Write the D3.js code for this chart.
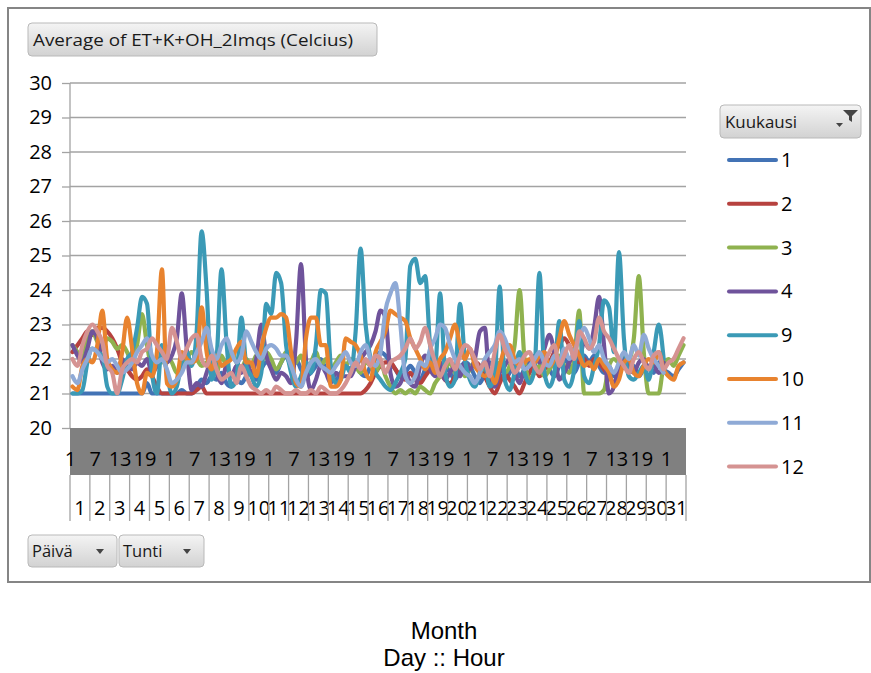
<!DOCTYPE html>
<html>
<head>
<meta charset="utf-8">
<script src="https://cdn.jsdelivr.net/npm/d3@7"></script>
<style>
  html, body { margin: 0; padding: 0; background: #ffffff; }
  svg { display: block; }
</style>
</head>
<body>
<svg id="chart" width="871" height="673"></svg>
<script>
// Hourly indoor temperature, averaged per day and hour, one line per month.
// Each series holds four readings per day (00-06, 06-12, 12-18, 18-24 blocks).
const title = "Average of ET+K+OH_2Imqs (Celcius)";
const legendTitle = "Kuukausi";
const fieldButtons = ["Päivä", "Tunti"];
const captionLines = ["Month", "Day :: Hour"];

const months = ["1", "2", "3", "4", "9", "10", "11", "12"];
const monthColors = ["#4373b5", "#b7423f", "#8fb24f", "#6f539b", "#3b9ab6", "#e8832f", "#8faad6", "#d59392"];

const dayLabels = ["1","2","3","4","5","6","7","8","9","10","11","12","13","14","15","16",
  "17","18","19","20","21","22","23","24","25","26","27","28","29","30","31"];
// hour labels shown on every 30th hourly category
const hourTickLabels = ["1","7","13","19","1","7","13","19","1","7","13","19","1","7","13","19",
  "1","7","13","19","1","7","13","19","1"];
const yTicks = [20, 21, 22, 23, 24, 25, 26, 27, 28, 29, 30];

const m1 = [
  21.0,21.0,21.0,21.0, 21.0,21.0,21.0,21.0, 21.0,21.0,21.0,21.0, 21.0,21.0,21.0,21.3,
  21.0,21.0,21.0,21.0, 21.0,21.0,21.1,21.0, 21.0,21.2,21.4,21.3, 21.5,21.4,21.6,21.3,
  21.2,21.4,21.3,21.5, 21.6,21.4,21.7,21.9, 21.8,21.6,21.9,22.1, 21.8,22.0,21.7,21.5,
  21.6,21.8,22.0,21.7, 21.5,21.4,21.6,21.8, 21.7,21.9,21.6,21.5, 21.8,22.0,22.2,22.1,
  21.9,21.7,21.5,21.6, 21.8,21.6,21.4,21.7, 21.9,21.7,21.5,21.8, 21.6,21.4,21.7,21.9,
  21.8,21.5,21.3,21.6, 21.9,21.7,21.5,21.4, 21.6,21.8,21.5,21.7, 21.9,21.6,21.8,22.0,
  21.7,21.5,21.8,22.0, 21.8,21.6,21.9,22.1, 21.9,22.1,21.8,21.6, 21.8,21.5,21.7,21.9,
  21.6,21.8,21.5,21.7, 21.8,21.6,21.9,21.7, 21.6,21.5,21.7,21.9
];
const m2 = [
  22.2,22.4,22.6,22.8, 22.7,22.9,22.9,22.8, 22.6,22.3,21.9,21.7, 21.5,21.4,21.5,21.7,
  21.5,21.2,21.0,21.0, 21.0,21.0,21.0,21.0, 21.0,21.1,21.2,21.0, 21.0,21.0,21.0,21.0,
  21.0,21.0,21.0,21.0, 21.0,21.0,21.0,21.0, 21.0,21.0,21.0,21.0, 21.0,21.0,21.0,21.0,
  21.0,21.0,21.0,21.0, 21.0,21.0,21.0,21.0, 21.0,21.0,21.0,21.1, 21.3,21.6,21.8,21.9,
  21.9,21.7,21.5,21.4, 21.6,21.4,21.3,21.5, 21.7,21.9,21.6,21.4, 21.3,21.5,21.8,21.6,
  21.7,21.9,21.8,21.5, 21.2,21.0,21.3,21.6, 21.4,21.2,21.0,21.3, 21.6,21.8,21.5,21.7,
  21.9,22.2,22.4,22.6, 22.4,22.1,21.9,22.0, 21.8,22.0,21.9,21.7, 21.5,21.3,21.6,21.8
];
const m3 = [
  22.4,22.2,22.0,22.6, 22.8,22.5,22.3,22.6, 22.5,22.3,22.4,22.2, 21.9,22.4,23.3,22.4,
  21.8,22.0,21.9,22.1, 21.9,21.6,21.8,22.0, 22.2,22.0,21.8,21.9, 22.0,21.6,22.1,21.8,
  22.2,21.9,21.7,22.0, 21.8,22.1,21.9,22.2, 22.0,21.7,21.9,22.2, 21.8,21.9,22.1,21.7,
  21.9,22.2,21.8,22.0, 21.7,21.9,22.1,21.8, 22.0,21.8,21.6,21.9, 21.8,21.6,21.9,21.5,
  21.2,21.0,21.1,21.0, 21.1,21.0,21.2,21.1, 21.0,21.3,21.5,21.7, 21.9,21.6,21.8,21.5,
  21.7,21.9,21.6,21.8, 21.5,21.7,21.9,21.6, 21.8,22.4,24.0,22.0, 21.4,21.6,21.8,21.5,
  21.7,21.9,22.1,21.8, 21.6,22.0,23.4,21.0, 21.0,21.0,21.0,21.1, 21.8,22.0,21.9,22.1,
  22.0,22.6,24.4,22.2, 21.0,21.0,21.0,21.8, 22.0,21.8,22.1,22.4
];
const m4 = [
  22.4,22.1,21.9,22.3, 22.8,22.6,21.9,21.7, 21.8,21.6,22.0,21.8, 21.7,21.9,21.8,22.0,
  21.6,21.8,22.1,21.9, 22.1,22.6,23.9,22.3, 21.1,21.3,21.2,21.6, 22.0,21.6,21.3,21.8,
  21.5,21.8,21.6,21.9, 21.6,22.0,23.0,22.1, 21.7,21.4,21.6,21.5, 21.3,22.5,24.75,22.0,
  21.1,21.4,21.8,21.6, 21.3,21.6,21.5,21.5, 21.5,21.8,22.0,22.2, 22.4,22.8,23.4,23.2,
  21.6,21.2,21.3,21.6, 21.3,21.2,21.8,22.1, 21.7,21.5,21.9,21.4, 21.6,21.8,21.5,21.9,
  21.7,22.0,22.8,22.9, 21.3,21.2,21.6,21.8, 22.0,21.6,21.3,21.7, 21.8,22.1,21.9,22.3,
  22.7,22.2,21.4,21.6, 21.9,22.1,22.0,22.5, 22.3,22.9,23.8,22.4, 21.0,21.2,21.8,22.0,
  21.8,21.6,21.9,22.0, 21.7,21.8,21.6,21.9
];
const m9 = [
  21.0,21.0,21.1,21.9, 22.3,22.2,22.1,21.2, 21.0,21.0,21.4,22.0, 22.2,22.9,23.8,23.6,
  21.6,21.0,22.4,21.6, 21.0,21.2,21.9,22.2, 21.8,22.8,25.7,24.0, 21.4,22.0,24.6,22.5,
  21.2,21.4,23.2,21.8, 21.5,21.2,21.6,23.6, 23.3,24.5,24.2,22.4, 21.6,21.2,21.5,21.9,
  21.6,22.4,24.0,23.9, 21.8,21.3,21.4,21.8, 21.6,22.8,25.2,23.0, 22.0,21.6,21.4,21.2,
  21.1,21.3,21.6,22.0, 24.7,24.9,24.2,24.4, 22.4,21.8,23.9,21.6, 21.2,21.4,23.6,22.0,
  21.4,21.2,21.6,21.8, 21.2,21.5,24.1,21.4, 21.1,21.6,22.2,21.6, 21.3,21.7,24.5,21.6,
  21.2,21.6,23.1,21.4, 21.2,21.7,23.1,21.5, 21.3,21.8,22.4,23.7, 23.5,22.2,25.1,22.6,
  21.5,21.4,21.6,21.8, 21.4,22.2,23.0,22.0
];
const m10 = [
  21.2,21.1,21.8,22.0, 21.9,22.4,23.4,22.0, 21.7,21.6,22.2,23.2, 22.3,21.3,21.0,21.6,
  21.5,22.2,24.6,21.3, 21.2,21.4,22.2,22.0, 21.9,22.0,23.5,22.2, 21.7,22.1,21.8,21.9,
  22.0,22.3,22.5,21.9, 21.9,21.5,22.3,22.9, 23.2,23.2,23.3,23.2, 22.2,21.3,21.2,22.6,
  23.2,23.2,22.4,22.4, 21.2,21.2,21.4,22.6, 22.5,22.4,22.1,21.6, 21.4,22.2,22.5,22.8,
  23.4,23.3,23.2,23.1, 22.6,22.3,22.0,21.7, 21.9,21.6,22.0,22.2, 22.6,23.0,22.4,22.0,
  22.3,21.8,21.6,21.5, 21.6,21.3,21.8,22.3, 22.4,22.0,21.8,21.9, 22.0,21.9,22.1,22.2,
  21.8,22.0,22.6,23.1, 22.7,22.4,22.1,21.8, 21.9,21.7,22.0,21.8, 21.6,21.2,21.4,21.9,
  22.0,21.6,21.5,21.8, 22.0,21.9,22.2,21.7, 21.5,21.4,21.8,21.9
];
const m11 = [
  21.5,21.3,21.7,22.0, 22.3,22.2,22.0,21.9, 22.0,21.8,21.6,21.7, 21.9,22.2,22.4,22.6,
  22.1,21.9,22.0,21.7, 21.3,21.4,21.6,21.9, 21.9,22.2,22.5,22.9, 22.3,22.0,22.4,22.6,
  22.2,21.9,22.1,22.8, 22.5,22.2,22.0,22.3, 22.4,22.3,22.1,22.1, 21.8,21.4,21.2,21.6,
  21.9,22.0,21.8,21.7, 21.6,21.8,22.0,22.2, 21.9,21.8,22.2,22.4, 22.0,21.8,22.2,23.4,
  23.9,24.2,23.0,21.5, 21.3,21.5,21.9,21.8, 22.3,22.6,23.0,22.9, 22.4,22.0,21.8,21.6,
  21.5,21.3,21.6,22.0, 22.2,22.4,22.8,22.6, 22.2,21.9,22.0,21.7, 21.8,22.0,22.2,21.9,
  21.8,22.1,21.9,22.3, 22.0,22.2,22.6,22.9, 22.6,22.2,22.4,22.0, 21.8,21.6,21.9,22.2,
  22.0,22.4,22.1,22.7, 22.3,22.0,21.8,21.6
];
const m12 = [
  22.0,21.8,22.4,22.8, 23.0,22.8,22.5,21.8, 21.6,21.0,21.7,21.9, 22.0,21.9,22.2,22.3,
  22.6,22.4,22.2,22.0, 22.9,22.5,22.0,22.3, 22.6,22.7,22.0,21.8, 22.1,21.7,21.4,21.5,
  21.6,21.3,21.8,21.5, 21.2,21.1,21.0,21.1, 21.0,21.2,21.1,21.0, 21.0,21.1,21.0,21.0,
  21.1,21.0,21.2,21.1, 21.0,21.0,21.1,21.3, 21.6,21.9,21.7,22.0, 21.8,22.1,22.0,21.6,
  21.9,22.0,22.1,22.3, 22.6,22.3,22.5,22.9, 22.4,21.9,21.5,21.8, 22.0,21.7,22.1,22.4,
  22.3,22.0,21.7,21.9, 21.5,22.2,22.7,22.3, 22.0,21.6,21.8,22.1, 22.2,21.8,21.6,21.9,
  22.2,22.4,21.8,22.1, 22.4,22.0,22.8,22.6, 22.3,22.5,23.2,22.8, 22.6,22.3,22.0,21.8,
  21.6,22.0,22.2,21.9, 21.7,22.1,22.2,21.7, 21.9,22.0,22.3,22.6
];
const seriesValues = [m1, m2, m3, m4, m9, m10, m11, m12];

const svg = d3.select("#chart");
const defs = svg.append("defs");
const grad = defs.append("linearGradient").attr("id", "btn").attr("x1", 0).attr("y1", 0).attr("x2", 0).attr("y2", 1);
grad.append("stop").attr("offset", "0%").attr("stop-color", "#f4f4f4");
grad.append("stop").attr("offset", "100%").attr("stop-color", "#d2d2d2");

const numFont = "'Open Sans', 'Noto Sans', sans-serif";
const numSize = 20;

// outer chart frame
svg.append("rect").attr("x", 8).attr("y", 8).attr("width", 862).attr("height", 574)
  .attr("fill", "#ffffff").attr("stroke", "#858585").attr("stroke-width", 2);

const hoursTotal = 31 * 24;
const x = d3.scaleLinear().domain([0, hoursTotal]).range([70, 686]);
const y = d3.scaleLinear().domain([20, 30]).range([428, 83]);

// value axis with gridlines
const yAxis = svg.append("g").attr("transform", "translate(70,0)")
  .call(d3.axisLeft(y).tickValues(yTicks).tickSize(8).tickPadding(10).tickFormat(d3.format("d")));
yAxis.select(".domain").remove();
yAxis.selectAll(".tick line").attr("stroke", "#a3a3a3").attr("stroke-width", 1.3);
yAxis.selectAll(".tick text").attr("font-family", numFont).attr("font-size", numSize).attr("fill", "#000");

svg.append("g").selectAll("line").data(yTicks.filter(v => v > 20)).join("line")
  .attr("x1", 70).attr("x2", 686)
  .attr("y1", d => y(d)).attr("y2", d => y(d))
  .attr("stroke", "#a3a3a3").attr("stroke-width", 1.3);
svg.append("line").attr("x1", 70).attr("x2", 70).attr("y1", y(30)).attr("y2", y(20))
  .attr("stroke", "#a3a3a3").attr("stroke-width", 1.3);

// category axis: hour band and day row
svg.append("rect").attr("x", 70).attr("y", y(20)).attr("width", 616).attr("height", 47).attr("fill", "#808080");

const hourStep = 30;
svg.append("g").selectAll("text").data(hourTickLabels).join("text")
  .attr("x", (d, i) => x(i * hourStep + 0.5))
  .attr("y", 466)
  .attr("text-anchor", "middle")
  .attr("font-family", numFont).attr("font-size", numSize).attr("fill", "#000")
  .text(d => d);

const dayScale = d3.scaleBand().domain(dayLabels).range([70, 686]);
const dayAxis = svg.append("g").attr("transform", "translate(0,475)")
  .call(d3.axisBottom(dayScale).tickSize(0).tickPadding(26));
dayAxis.select(".domain").remove();
dayAxis.selectAll(".tick text").attr("font-family", numFont).attr("font-size", numSize).attr("fill", "#000");

svg.append("g").selectAll("line").data(d3.range(dayLabels.length + 1)).join("line")
  .attr("x1", i => 70 + i * dayScale.bandwidth()).attr("x2", i => 70 + i * dayScale.bandwidth())
  .attr("y1", 475).attr("y2", 521)
  .attr("stroke", "#a3a3a3").attr("stroke-width", 1.3);

// month lines
const line = d3.line()
  .x((d, i) => x(i * 6 + 3))
  .y(d => y(d))
  .curve(d3.curveMonotoneX);

svg.append("g").selectAll("path").data(seriesValues).join("path")
  .attr("d", d => line(d))
  .attr("fill", "none")
  .attr("stroke", (d, i) => monthColors[i])
  .attr("stroke-width", 4.2)
  .attr("stroke-linejoin", "round")
  .attr("stroke-linecap", "round");

// field buttons
function button(x0, y0, w, h) {
  svg.append("rect").attr("x", x0).attr("y", y0).attr("width", w).attr("height", h).attr("rx", 4)
    .attr("fill", "url(#btn)").attr("stroke", "#b9b9b9").attr("stroke-width", 1);
}
const btnFont = "'Open Sans', 'Noto Sans', sans-serif";

button(28, 23, 349, 33);
svg.append("text").attr("x", 33).attr("y", 46)
  .attr("font-family", btnFont).attr("font-size", 16.5).attr("fill", "#1a1a1a")
  .attr("textLength", 320).attr("lengthAdjust", "spacingAndGlyphs")
  .text(title);

button(720, 105, 141, 33);
svg.append("text").attr("x", 725).attr("y", 128)
  .attr("font-family", btnFont).attr("font-size", 16.5).attr("fill", "#1a1a1a")
  .attr("textLength", 72).attr("lengthAdjust", "spacingAndGlyphs")
  .text(legendTitle);
// filter funnel and drop arrow
svg.append("path").attr("d", "M843,110 L858,110 L852,116 L852,122 L849,120 L849,116 Z").attr("fill", "#444");
svg.append("path").attr("d", "M836,123 L843,123 L839.5,127 Z").attr("fill", "#444");

const bx = [[28, 89], [119, 85]];
fieldButtons.forEach((label, i) => {
  const [x0, w] = bx[i];
  button(x0, 535, w, 32);
  svg.append("text").attr("x", x0 + 4).attr("y", 557)
    .attr("font-family", btnFont).attr("font-size", 16.5).attr("fill", "#1a1a1a")
    .text(label);
  const ax = x0 + w - 17;
  svg.append("path").attr("d", `M${ax - 4},549 L${ax + 4},549 L${ax},554 Z`).attr("fill", "#444");
});

// legend
const legend = svg.append("g");
months.forEach((m, i) => {
  const ly = 160 + i * 43.8;
  legend.append("line").attr("x1", 729).attr("x2", 776).attr("y1", ly).attr("y2", ly)
    .attr("stroke", monthColors[i]).attr("stroke-width", 4).attr("stroke-linecap", "round");
  legend.append("text").attr("x", 781).attr("y", ly + 7)
    .attr("font-family", numFont).attr("font-size", numSize).attr("fill", "#000")
    .text(m);
});

// caption under the chart
svg.append("g").selectAll("text").data(captionLines).join("text")
  .attr("x", 444).attr("y", (d, i) => 639 + i * 27)
  .attr("text-anchor", "middle")
  .attr("font-family", "'Liberation Sans', Arial, sans-serif").attr("font-size", 24).attr("fill", "#000")
  .text(d => d);
</script>
</body>
</html>
